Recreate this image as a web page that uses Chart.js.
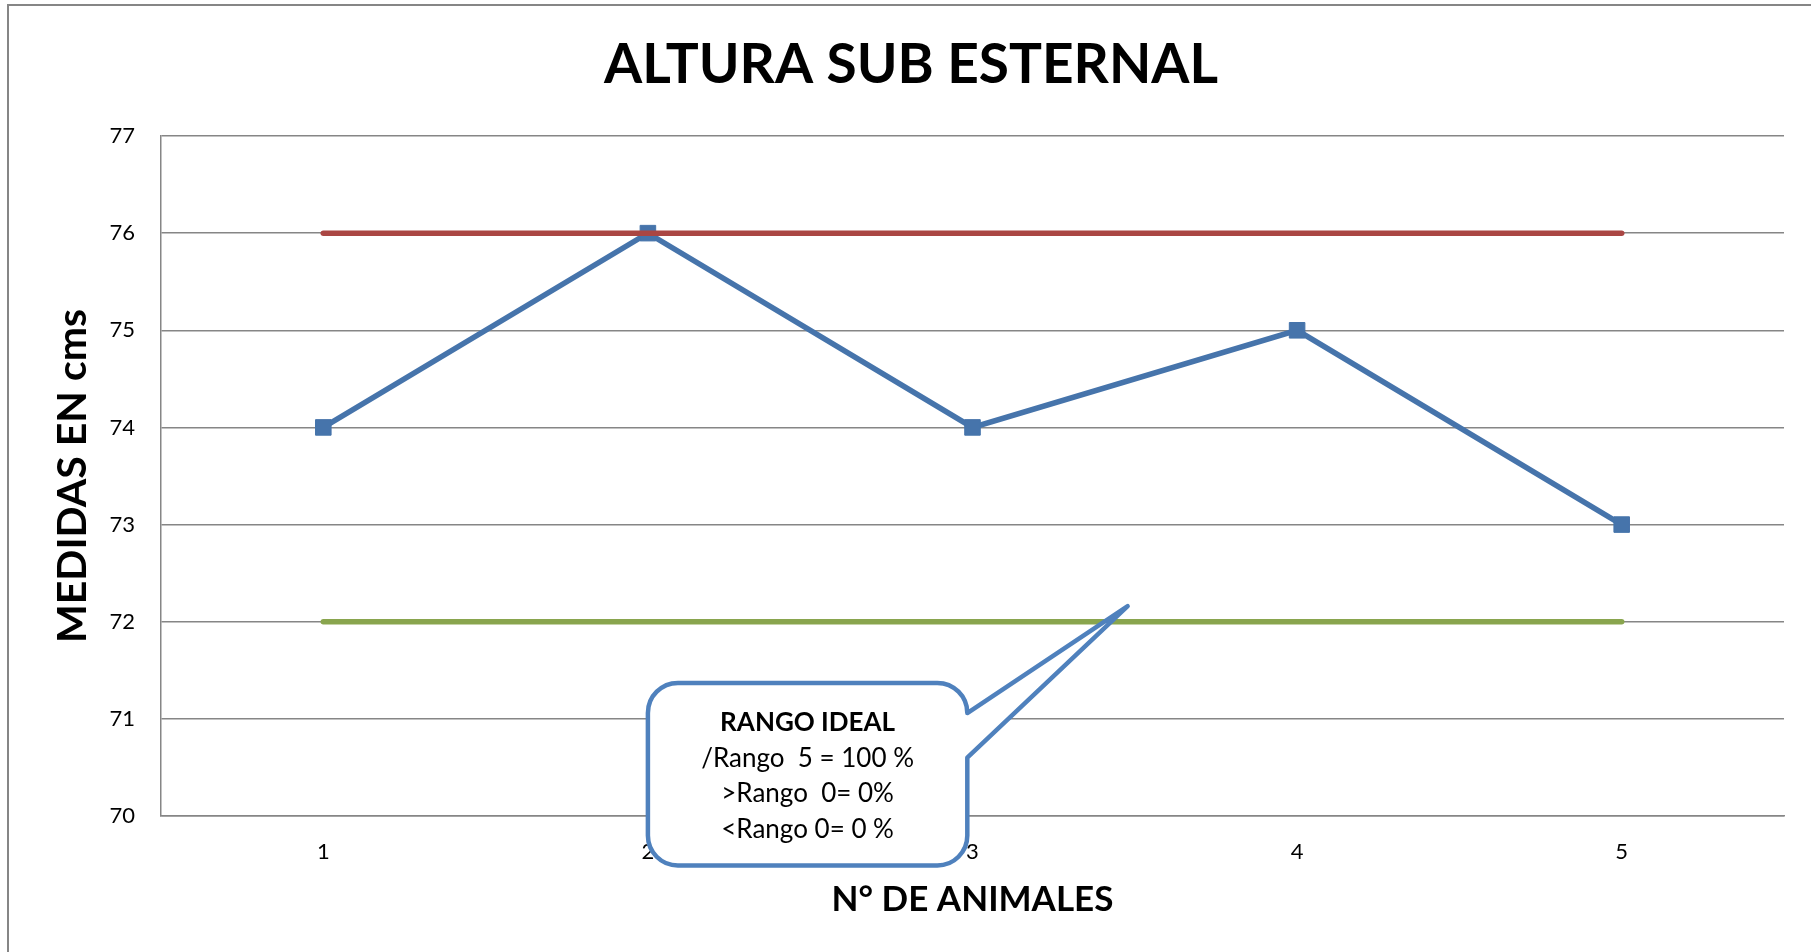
<!DOCTYPE html>
<html>
<head>
<meta charset="utf-8">
<title>Altura sub esternal</title>
<script src="https://cdn.jsdelivr.net/npm/chart.js@4.4.1/dist/chart.umd.min.js"></script>
<style>
  html, body { margin: 0; padding: 0; background: #fff; }
  canvas { display: block; }
</style>
</head>
<body>
<canvas id="alturaChart" width="1811" height="952"></canvas>
<script>
// N° de animal y medida en cms de cada uno
const animales = ["1", "2", "3", "4", "5"];
const medidas = [74, 76, 74, 75, 73];

// limites del rango ideal
const limiteSuperior = [76, 76, 76, 76, 76];
const limiteInferior = [72, 72, 72, 72, 72];

const yTicks = [70, 71, 72, 73, 74, 75, 76, 77];

const calloutLines = ["RANGO IDEAL", "/Rango  5 = 100 %", ">Rango  0= 0%", "<Rango 0= 0 %"];

// cuadro del comentario, en unidades de los ejes (x = indice de categoria)
const callout = {
  left: 1.0, right: 1.984,
  top: 71.37, bottom: 69.49,
  tip: [2.478, 72.16],
  base: [71.06, 70.6]
};

const FONT = "Lato, 'Open Sans', sans-serif";
const GRAY = '#868686';

// marco exterior del grafico (solo lados izquierdo y superior visibles)
const framePlugin = {
  id: 'frame',
  beforeDraw(chart) {
    const { ctx } = chart;
    ctx.save();
    ctx.strokeStyle = GRAY;
    ctx.lineWidth = 2;
    ctx.beginPath();
    ctx.moveTo(8, chart.height);
    ctx.lineTo(8, 5);
    ctx.lineTo(chart.width, 5);
    ctx.stroke();
    ctx.restore();
  }
};

const calloutPlugin = {
  id: 'callout',
  afterDraw(chart) {
    const { ctx } = chart;
    const x = chart.scales.x, y = chart.scales.y;
    const L = x.getPixelForValue(callout.left), R = x.getPixelForValue(callout.right);
    const T = y.getPixelForValue(callout.top), B = y.getPixelForValue(callout.bottom);
    const tipX = x.getPixelForValue(callout.tip[0]), tipY = y.getPixelForValue(callout.tip[1]);
    const b1 = y.getPixelForValue(callout.base[0]), b2 = y.getPixelForValue(callout.base[1]);
    const r = 30;

    ctx.save();
    ctx.beginPath();
    ctx.moveTo(L + r, T);
    ctx.lineTo(R - r, T);
    ctx.arcTo(R, T, R, T + r, r);
    ctx.lineTo(R, b1);
    ctx.lineTo(tipX, tipY);
    ctx.lineTo(R, b2);
    ctx.lineTo(R, B - r);
    ctx.arcTo(R, B, R - r, B, r);
    ctx.lineTo(L + r, B);
    ctx.arcTo(L, B, L, B - r, r);
    ctx.lineTo(L, T + r);
    ctx.arcTo(L, T, L + r, T, r);
    ctx.closePath();
    ctx.fillStyle = '#fff';
    ctx.fill();
    ctx.lineWidth = 4.5;
    ctx.lineJoin = 'round';
    ctx.strokeStyle = '#4F81BD';
    ctx.stroke();

    ctx.fillStyle = '#000';
    ctx.textAlign = 'center';
    ctx.textBaseline = 'middle';
    const cx = (L + R) / 2;
    calloutLines.forEach((line, i) => {
      ctx.font = (i === 0 ? 'bold ' : '') + '26px ' + FONT;
      ctx.fillText(line, cx, T + 40 + i * 35.5);
    });
    ctx.restore();
  }
};

const ctx = document.getElementById('alturaChart').getContext('2d');

const alturaChart = new Chart(ctx, {
  type: 'line',
  data: {
    labels: animales,
    datasets: [
      {
        label: 'Medidas',
        data: medidas,
        borderColor: '#4674AB',
        backgroundColor: '#4674AB',
        borderWidth: 5.5,
        pointStyle: 'rect',
        pointRadius: 11,
        pointBorderWidth: 1,
        pointBorderColor: '#4674AB',
        tension: 0,
        order: 1
      },
      {
        label: 'Limite superior',
        data: limiteSuperior,
        borderColor: '#AA4643',
        borderWidth: 5.5,
        borderCapStyle: 'round',
        pointRadius: 0,
        order: 0
      },
      {
        label: 'Limite inferior',
        data: limiteInferior,
        borderColor: '#89A54E',
        borderWidth: 5.5,
        borderCapStyle: 'round',
        pointRadius: 0,
        order: 0
      }
    ]
  },
  options: {
    responsive: false,
    animation: false,
    // left/right padding keep the title centred on the whole frame
    layout: { padding: { left: 38, right: 27, top: 0, bottom: 0 } },
    plugins: {
      legend: { display: false },
      tooltip: { enabled: false },
      title: {
        display: true,
        text: 'ALTURA SUB ESTERNAL',
        color: '#000',
        font: { family: FONT, size: 55, weight: 'bold', lineHeight: 1.2 },
        padding: { top: 32, bottom: 38 }
      }
    },
    scales: {
      x: {
        offset: true,
        grid: { display: false, drawTicks: false },
        border: { display: true, color: GRAY, width: 1.5 },
        ticks: { color: '#000', font: { family: FONT, size: 22 }, padding: 23, maxRotation: 0 },
        title: {
          display: true,
          text: 'N° DE ANIMALES',
          color: '#000',
          font: { family: FONT, size: 35, weight: 'bold', lineHeight: 1.2 },
          padding: { top: 0, bottom: 31 }
        },
        afterFit: s => { s.height = 136; }
      },
      y: {
        min: 70,
        max: 77,
        grid: { color: GRAY, lineWidth: 1.5, drawTicks: false },
        border: { display: true, color: GRAY, width: 1.5 },
        ticks: { color: '#000', font: { family: FONT, size: 22 }, padding: 26 },
        afterBuildTicks: s => { s.ticks = yTicks.map(v => ({ value: v })); },
        title: {
          display: true,
          text: 'MEDIDAS EN cms',
          color: '#000',
          font: { family: FONT, size: 41, weight: 'bold', lineHeight: 1.2 },
          padding: { top: 10, bottom: 0 }
        },
        afterFit: s => { s.width = 123; }
      }
    }
  },
  plugins: [framePlugin, calloutPlugin]
});
</script>
</body>
</html>
